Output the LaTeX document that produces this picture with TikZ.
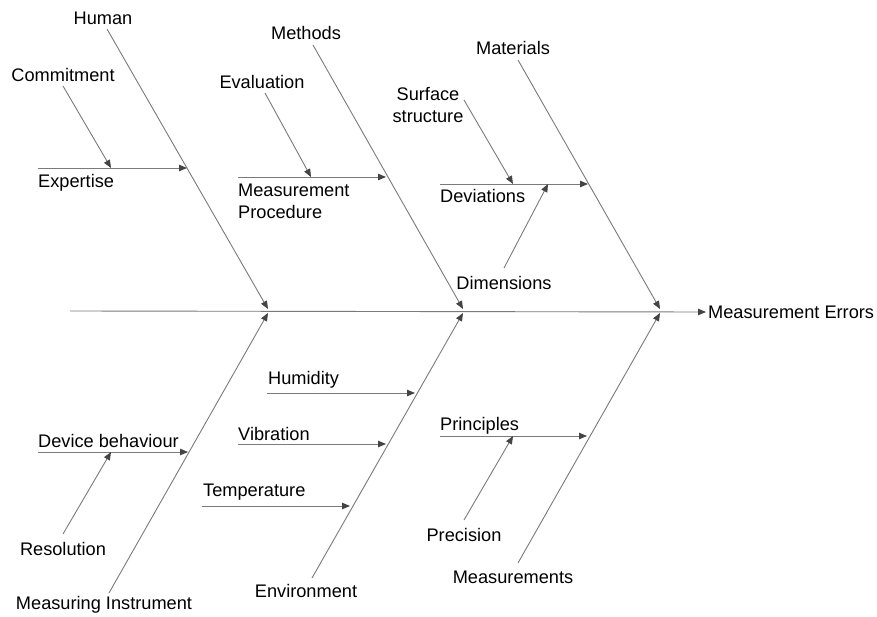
\documentclass[tikz,border=0pt]{standalone}
\usepackage{fontspec}
\setmainfont{Liberation Sans}
\usetikzlibrary{arrows.meta}
\definecolor{bonegray}{HTML}{7A7A7A}
\definecolor{tipgray}{HTML}{444444}
\begin{document}
\begin{tikzpicture}[x=1pt,y=-1pt,
  bone/.style={draw=bonegray, line width=0.9pt,
    -{Triangle[length=8pt,width=6.5pt,color=tipgray]}},
  lbl/.style={font=\fontsize{18.2}{22}\selectfont, inner sep=0pt, text=black},
  lleft/.style={lbl, anchor=west},
]
\useasboundingbox (0,0) rectangle (877,617);

% ---- effect and spine
\node[lleft] (effect) at (708,312) {Measurement Errors};
\coordinate (tail) at (70,311);
\draw[bone] (tail) -- ([xshift=-2pt]effect.west);

% ---- junctions on the spine
\coordinate (jH) at (268,309);
\coordinate (jM) at (463,309);
\coordinate (jT) at (660,309);
\coordinate (jI) at (268,313);
\coordinate (jE) at (463,313);
\coordinate (jS) at (660,313);

% ---- main categories
\node[lbl] (human)   at (103,18)  {Human};
\node[lbl] (methods) at (306,33)  {Methods};
\node[lbl] (materials) at (513,48) {Materials};
\node[lbl] (instr)   at (104,605) {Measuring Instrument};
\node[lbl] (env)     at (306,591) {Environment};
\node[lbl] (meas)    at (513,577) {Measurements};

\coordinate (hS) at (107,29);
\coordinate (mS) at (313,45);
\coordinate (tS) at (518,60);
\coordinate (iS) at (109,593);
\coordinate (eS) at (312,578);
\coordinate (sS) at (518,563);

\draw[bone] (hS) -- (jH);
\draw[bone] (mS) -- (jM);
\draw[bone] (tS) -- (jT);
\draw[bone] (iS) -- (jI);
\draw[bone] (eS) -- (jE);
\draw[bone] (sS) -- (jS);

% ---- Human causes
\node[lleft] (expertise) at (38,183) {Expertise};
\node[lbl] (commit) at (63,75) {Commitment};
\coordinate (expA) at (38,168);
\coordinate (expB) at (187,168);
\coordinate (expC) at (111,168);
\draw[bone] (expA) -- (expB);
\draw[bone] (63,86) coordinate (comS) -- (expC);

% ---- Methods causes
\node[lbl] (eval) at (262,82) {Evaluation};
\node[lleft, align=left] (proc) at (238,201) {Measurement\\Procedure};
\coordinate (prA) at (238,177);
\coordinate (prB) at (386,177);
\coordinate (prC) at (311,177);
\draw[bone] (prA) -- (prB);
\draw[bone] (265,93) coordinate (evS) -- (prC);

% ---- Materials causes
\node[lbl, align=center] (surf) at (428,105) {Surface\\structure};
\node[lleft] (dev) at (440,196) {Deviations};
\node[lbl] (dim) at (504,283) {Dimensions};
\coordinate (dvA) at (440,184);
\coordinate (dvB) at (588,184);
\coordinate (dvC) at (513,184);
\coordinate (dvD) at (548,184);
\draw[bone] (dvA) -- (dvB);
\draw[bone] (464,100) coordinate (sfS) -- (dvC);
\draw[bone] (504,268) coordinate (dmS) -- (dvD);

% ---- Measuring Instrument causes
\node[lleft] (devb) at (38,441) {Device behaviour};
\node[lbl] (resol) at (63,549) {Resolution};
\coordinate (dbA) at (38,452);
\coordinate (dbB) at (188,452);
\coordinate (dbC) at (111,452);
\draw[bone] (dbA) -- (dbB);
\draw[bone] (63,534) coordinate (rsS) -- (dbC);

% ---- Environment causes
\node[lleft] (humid) at (268,380) {Humidity};
\node[lleft] (vib)   at (238,434) {Vibration};
\node[lleft] (temp)  at (203,492) {Temperature};
\coordinate (huA) at (267,393);
\coordinate (huB) at (415,393);
\coordinate (viA) at (238,444);
\coordinate (viB) at (386,444);
\coordinate (teA) at (202,506);
\coordinate (teB) at (350,506);
\draw[bone] (huA) -- (huB);
\draw[bone] (viA) -- (viB);
\draw[bone] (teA) -- (teB);

% ---- Measurements causes
\node[lleft] (princ) at (440,426) {Principles};
\node[lbl] (prec) at (464,535) {Precision};
\coordinate (piA) at (440,436);
\coordinate (piB) at (587,436);
\coordinate (piC) at (513,436);
\draw[bone] (piA) -- (piB);
\draw[bone] (464,520) coordinate (pcS) -- (piC);
\end{tikzpicture}
\end{document}
